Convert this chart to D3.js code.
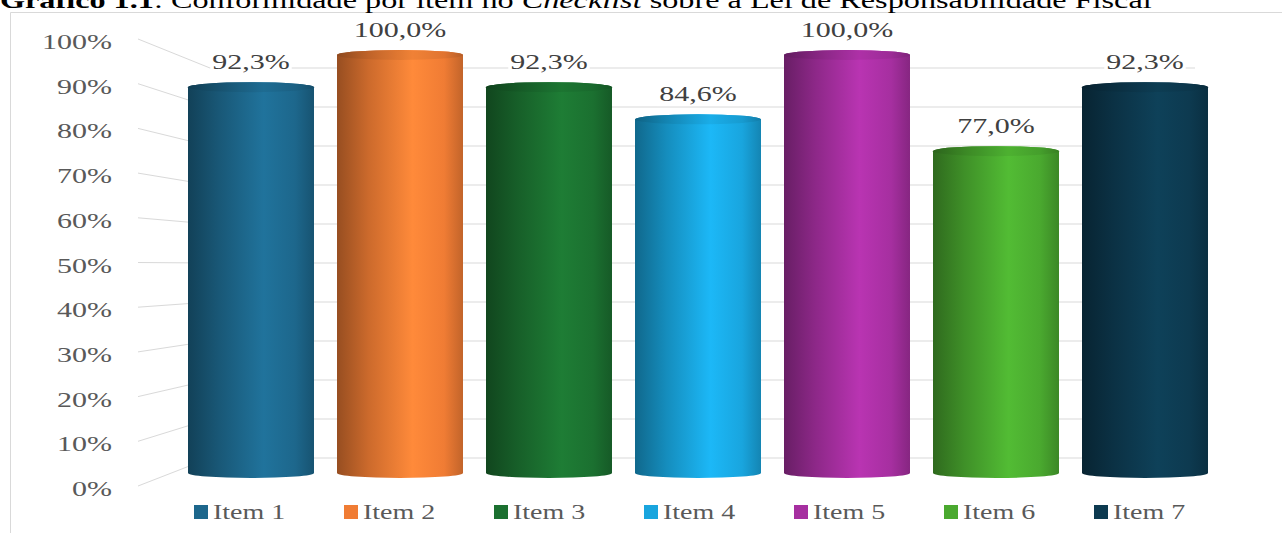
<!DOCTYPE html>
<html><head><meta charset="utf-8">
<script src="https://cdn.jsdelivr.net/npm/d3@7"></script>
<style>html,body{margin:0;padding:0;background:#fff;}svg{display:block;}</style>
</head><body>
<svg id="chart" width="1282" height="533"></svg>
<script>
const categories = ["Item 1","Item 2","Item 3","Item 4","Item 5","Item 6","Item 7"];
const values = [0.923, 1.0, 0.923, 0.846, 1.0, 0.77, 0.923];
const valueLabels = ["92,3%","100,0%","92,3%","84,6%","100,0%","77,0%","92,3%"];
const yTicks = [0,0.1,0.2,0.3,0.4,0.5,0.6,0.7,0.8,0.9,1.0];
const colors = ["#1d678c","#f07c34","#1b7030","#19a5de","#a62fa0","#4aa92f","#0d3a50"];

const svg = d3.select("#chart");
const FONT = "'Liberation Serif', 'Times New Roman', serif";
const SX = 1.5;

// frame
svg.append("path").attr("d","M10.5,533 L10.5,12.5 L1282,12.5").attr("fill","none").attr("stroke","#d9d9d9").attr("stroke-width",1);

// title
const title = svg.append("text").attr("font-family",FONT).attr("font-size",24).attr("fill","#000");
title.append("tspan").attr("font-weight","bold").text("Gráfico 1.1");
title.append("tspan").text(": Conformidade por item no ");
title.append("tspan").attr("font-style","italic").text("Checklist");
title.append("tspan").text(" sobre a Lei de Responsabilidade Fiscal");
const tw = title.node().getComputedTextLength();
title.attr("transform",`translate(0,8) scale(${1152/tw},1)`);

// scales
const yFront = d3.scaleLinear().domain([0,1]).range([489,42]);
const yBack = d3.scaleLinear().domain([0,1]).range([458,68]);
const yBar = d3.scaleLinear().domain([0,1]).range([473,55]);
const x = d3.scaleBand().domain(categories).range([176.5,1219.5]).paddingInner(0.1544).paddingOuter(0.0772);
const xLeg = d3.scaleBand().domain(categories).range([194,1244]);

const wallX0 = 210, wallX1 = 1195, sideX0 = 138;

// gridlines
const grid = svg.append("g").attr("stroke","#d9d9d9").attr("stroke-width",1).attr("fill","none");
yTicks.forEach(t=>{
  grid.append("path").attr("d",`M${sideX0},${yFront(t)-3} L${wallX0},${yBack(t)} L${wallX1},${yBack(t)}`);
});

// y axis labels
const yl = svg.append("g");
yTicks.forEach(t=>{
  yl.append("text").attr("transform",`translate(112,${yFront(t)+7}) scale(${SX},1)`)
    .attr("text-anchor","end").attr("font-family",FONT).attr("font-size",20).attr("fill","#595959")
    .text(d3.format(".0%")(t));
});

// gradients
const defs = svg.append("defs");
colors.forEach((c,i)=>{
  const col = d3.color(c);
  const g = defs.append("linearGradient").attr("id","g"+i).attr("x1","0%").attr("x2","100%").attr("y1","0%").attr("y2","0%");
  [[0,col.darker(1.3)],[0.25,col.darker(0.45)],[0.6,col.brighter(0.3)],[0.85,col],[1,col.darker(0.6)]]
    .forEach(([o,cc])=>g.append("stop").attr("offset",o).attr("stop-color",cc.formatHex()));
});

// bars
const ry = 5;
const bars = svg.append("g");
categories.forEach((cat,i)=>{
  const x0 = x(cat), w = x.bandwidth(), x1 = x0+w, rx = w/2, cx = x0+rx;
  const yT = yBar(values[i]), yB = yBar(0);
  bars.append("path")
    .attr("d",`M${x0},${yT} L${x0},${yB} A${rx},${ry} 0 0 0 ${x1},${yB} L${x1},${yT} A${rx},${ry} 0 0 0 ${x0},${yT} Z`)
    .attr("fill",`url(#g${i})`);
  bars.append("ellipse").attr("cx",cx).attr("cy",yT).attr("rx",rx).attr("ry",ry).attr("fill",`url(#g${i})`);
  bars.append("ellipse").attr("cx",cx).attr("cy",yT).attr("rx",rx).attr("ry",ry).attr("fill","#000").attr("opacity",0.06);
  // value label
  const lg = svg.append("g").attr("transform",`translate(${cx},${yT-ry-13})`);
  const tl = lg.append("text").attr("transform",`scale(${SX},1)`).attr("text-anchor","middle")
    .attr("font-family",FONT).attr("font-size",20).attr("fill","#404040").text(valueLabels[i]);
  const bb = tl.node().getBBox();
  lg.insert("rect","text").attr("x",bb.x*SX-2).attr("y",bb.y).attr("width",bb.width*SX+4).attr("height",bb.height).attr("fill","#fff");
});

// legend
const leg = svg.append("g");
categories.forEach((cat,i)=>{
  const lx = xLeg(cat);
  leg.append("rect").attr("x",lx).attr("y",505).attr("width",14).attr("height",14).attr("fill",colors[i]);
  leg.append("text").attr("transform",`translate(${lx+19},519) scale(1.4,1)`)
    .attr("font-family",FONT).attr("font-size",20).attr("fill","#595959").text(cat);
});
</script>
</body></html>
